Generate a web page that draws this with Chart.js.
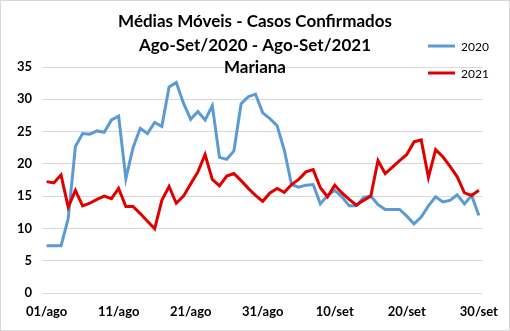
<!DOCTYPE html>
<html>
<head>
<meta charset="utf-8">
<script src="https://cdn.jsdelivr.net/npm/chart.js@4/dist/chart.umd.min.js"></script>
<style>
  html, body { margin: 0; padding: 0; background: #fff; }
  #wrap { position: relative; width: 510px; height: 331px; box-sizing: border-box; border: 1px solid #d9d9d9; }
  canvas { display: block; }
</style>
</head>
<body>
<div id="wrap"><canvas id="c" width="508" height="329"></canvas></div>
<script>
const titleLines = ["Médias Móveis - Casos Confirmados", "Ago-Set/2020 - Ago-Set/2021", "Mariana"];
const seriesNames = ["2020", "2021"];
const tickLabels = ["01/ago", "11/ago", "21/ago", "31/ago", "10/set", "20/set", "30/set"];

// categories: 01/ago .. 31/ago, 01/set .. 30/set
const categories = [];
for (let d = 1; d <= 31; d++) categories.push(String(d).padStart(2, "0") + "/ago");
for (let d = 1; d <= 30; d++) categories.push(String(d).padStart(2, "0") + "/set");

const values2020 = [
  7.3, 7.3, 7.3, 11.5, 22.7, 24.7, 24.6, 25.1, 24.9, 26.8,
  27.4, 17.7, 22.5, 25.5, 24.7, 26.4, 25.8, 31.9, 32.6, 29.4,
  26.9, 28.1, 26.8, 29.0, 21.0, 20.7, 22.0, 29.3, 30.4, 30.8,
  27.9, 27.0, 25.9, 22.1, 16.8, 16.4, 16.7, 16.8, 13.8, 15.1,
  15.9, 14.9, 13.5, 13.5, 14.8, 15.0, 13.7, 12.95, 12.95, 12.95,
  11.9, 10.7, 11.75, 13.5, 14.9, 14.1, 14.35, 15.2, 13.8, 15.1,
  12.0
];
const values2021 = [
  17.25, 17.05, 18.3, 13.3, 15.9, 13.5, 13.9, 14.5, 15.0, 14.6,
  16.2, 13.4, 13.4, 12.3, 11.1, 9.95, 14.35, 16.5, 13.9, 15.0,
  16.9, 18.75, 21.45, 17.6, 16.6, 18.1, 18.5, 17.4, 16.2, 15.1,
  14.2, 15.5, 16.2, 15.6, 16.8, 17.6, 18.75, 19.1, 16.3, 14.9,
  16.7, 15.5, 14.5, 13.6, 14.35, 15.0, 20.5, 18.5, 19.5, 20.5,
  21.45, 23.4, 23.7, 17.9, 22.2, 21.1, 19.6, 18.0, 15.5, 15.1,
  15.9
];
const yTicks = [0, 5, 10, 15, 20, 25, 30, 35];

const colors = ["#5b9bd5", "#e00000"];

const overlayPlugin = {
  id: "overlay",
  afterDraw(chart) {
    const ctx = chart.ctx;
    ctx.save();
    // Title
    ctx.fillStyle = "#000";
    ctx.textAlign = "center";
    ctx.textBaseline = "middle";
    ctx.font = "bold 17px Lato";
    const ty = [21, 45, 67];
    titleLines.forEach((t, i) => ctx.fillText(t, 254, ty[i]));
    // Legend
    ctx.font = "12px Lato";
    ctx.textAlign = "left";
    const ly = [45, 72];
    chart.data.datasets.forEach((ds, i) => {
      ctx.strokeStyle = ds.borderColor;
      ctx.lineWidth = 3;
      ctx.beginPath();
      ctx.moveTo(427, ly[i]);
      ctx.lineTo(454, ly[i]);
      ctx.stroke();
      ctx.fillStyle = "#000";
      ctx.fillText(ds.label, 460, ly[i] + 1);
    });
    ctx.restore();
  }
};

new Chart(document.getElementById("c"), {
  type: "line",
  data: {
    labels: categories,
    datasets: [
      { label: seriesNames[0], data: values2020, borderColor: colors[0], backgroundColor: colors[0], borderWidth: 3, pointRadius: 0, tension: 0, order: 1 },
      { label: seriesNames[1], data: values2021, borderColor: colors[1], backgroundColor: colors[1], borderWidth: 3, pointRadius: 0, tension: 0, order: 0 }
    ]
  },
  options: {
    responsive: false,
    animation: false,
    events: [],
    layout: { padding: { left: 0, right: 16, top: 66, bottom: 0 } },
    plugins: { legend: { display: false }, title: { display: false }, tooltip: { enabled: false } },
    scales: {
      x: {
        type: "category",
        offset: true,
        grid: { display: false, drawTicks: false },
        border: { display: false },
        ticks: {
          autoSkip: false,
          maxRotation: 0,
          minRotation: 0,
          padding: 11,
          color: "#000",
          font: { family: "Lato", size: 13, weight: "bold" },
          callback: function (v, i) { return (i % 10 === 0) ? tickLabels[i / 10] : null; }
        },
        afterFit(s) { s.height = 37; }
      },
      y: {
        min: 0,
        max: 35,
        afterBuildTicks(s) { s.ticks = yTicks.map(v => ({ value: v })); },
        grid: { color: "#d9d9d9", lineWidth: 1, drawTicks: false },
        border: { display: false },
        ticks: {
          padding: 11,
          color: "#000",
          font: { family: "Lato", size: 13, weight: "bold" }
        },
        afterFit(s) { s.width = 42; }
      }
    }
  },
  plugins: [overlayPlugin]
});
</script>
</body>
</html>
